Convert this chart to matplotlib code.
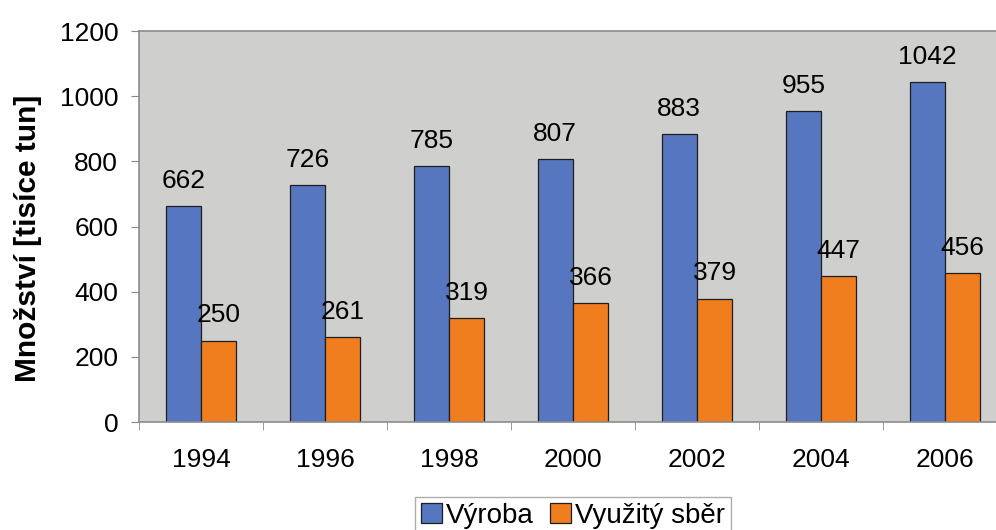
import matplotlib.pyplot as plt
import numpy as np
from matplotlib.ticker import FixedLocator

plt.rcParams['font.family'] = ['Liberation Sans', 'DejaVu Sans']

years = ["1994", "1996", "1998", "2000", "2002", "2004", "2006"]
vyroba = [662, 726, 785, 807, 883, 955, 1042]
sber = [250, 261, 319, 366, 379, 447, 456]

blue = "#5677C0"
orange = "#F07E1E"

fig = plt.figure(figsize=(9.96, 5.30), dpi=100)
ax = fig.add_axes([139 / 996, 108 / 530, 868 / 996, 391 / 530])
ax.set_facecolor("#CFCFCD")

x = np.arange(len(years))
w = 0.286
b1 = ax.bar(x - w / 2, vyroba, w, color=blue, edgecolor="#1e1e1e", linewidth=0.9, label="Výroba")
b2 = ax.bar(x + w / 2, sber, w, color=orange, edgecolor="#1e1e1e", linewidth=0.9, label="Využitý sběr")

for bars, vals in ((b1, vyroba), (b2, sber)):
    for r, v in zip(bars, vals):
        ax.annotate(str(v), (r.get_x() + r.get_width() / 2, v), xytext=(0, 13),
                    textcoords="offset points", ha="center", va="baseline",
                    fontsize=19, annotation_clip=False)

ax.set_xlim(-0.5, len(years) - 0.5)
ax.set_ylim(0, 1200)
ax.set_yticks(range(0, 1201, 200))
ax.set_xticks(x)
ax.set_xticklabels(years)
ax.xaxis.set_minor_locator(FixedLocator(np.arange(-0.5, len(years), 1)))
ax.tick_params(axis="x", which="major", length=0, pad=19, labelsize=19)
ax.tick_params(axis="x", which="minor", length=6, color="#888888", direction="out")
ax.tick_params(axis="y", length=6, color="#888888", pad=9, labelsize=19)

ax.spines["right"].set_visible(False)
for s in ("left", "bottom", "top"):
    ax.spines[s].set_color("#8c8c8c")
    ax.spines[s].set_linewidth(1.2)

ax.set_ylabel("Množství [tisíce tun]", fontsize=21.5, fontweight="bold")
ax.yaxis.set_label_coords((42 - 139) / 868, 0.47)

fig.legend(loc="upper center", bbox_to_anchor=(573 / 996, 1 - 497 / 530), ncol=2,
           fontsize=20, frameon=True, fancybox=False, edgecolor="#999999",
           handlelength=0.75, handleheight=0.75, handletextpad=0.15, columnspacing=0.6,
           borderpad=0.2, borderaxespad=0)

fig.savefig("out.png", dpi=100)
